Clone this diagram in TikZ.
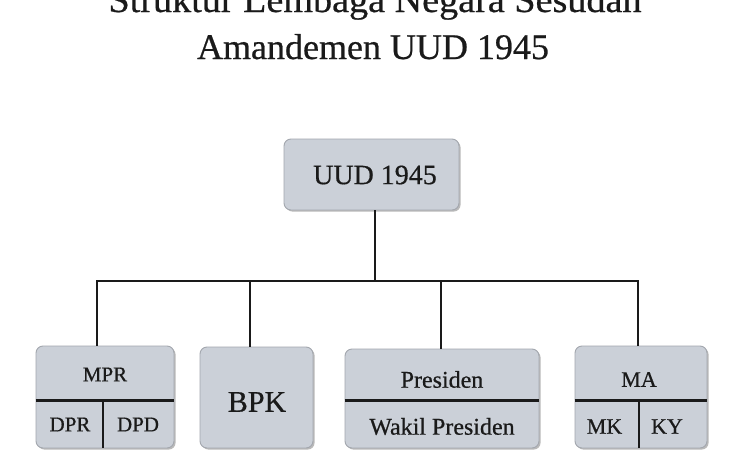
\documentclass[tikz,border=0pt]{standalone}
\usepackage{fontspec}
\setmainfont{Liberation Serif}[UprightFeatures={FakeBold=0.6}]
\usetikzlibrary{shadows}
\definecolor{boxfill}{HTML}{CBD0D8}
\definecolor{boxedge}{HTML}{A3A7AE}
\definecolor{ink}{HTML}{1A1A1A}
\tikzset{
  orgbox/.style={draw=boxedge, line width=0.9pt, fill=boxfill, rounded corners=7pt,
    inner sep=0pt, anchor=center,
    drop shadow={shadow xshift=1.6pt, shadow yshift=-1.6pt, fill=black!45, opacity=0.6}},
  link/.style={draw=ink, line width=2.6pt},
  divider/.style={draw=ink, line width=2.4pt},
  lbl/.style={text=ink, inner sep=0pt, anchor=center},
  ttl/.style={text=ink, inner sep=0pt, anchor=base, font=\fontsize{36}{40}\selectfont}
}
\begin{document}
\begin{tikzpicture}[x=1pt, y=-1pt]
\useasboundingbox[fill=white] (0,0) rectangle (750,450);
% title
\node[ttl] (t1) at (375,12) {\addfontfeature{FakeStretch=1.06}Struktur Lembaga Negara Sesudah};
\node[ttl] (t2) at (373,59) {Amandemen UUD 1945};
% boxes
\node[orgbox, minimum width=175pt, minimum height=71pt] (uud) at (371.5,174.5) {};
\node[orgbox, minimum width=138pt, minimum height=102pt] (mpr) at (105,397) {};
\node[orgbox, minimum width=113pt, minimum height=101pt] (bpk) at (256.5,397.5) {};
\node[orgbox, minimum width=194pt, minimum height=99pt] (pres) at (442,398.5) {};
\node[orgbox, minimum width=132pt, minimum height=102pt] (ma) at (641,397) {};
% connectors
\coordinate (sp) at (375,281);
\coordinate (j1) at (97,281);
\coordinate (j2) at (250,281);
\coordinate (j3) at (441,281);
\coordinate (j4) at (638,281);
\draw[link] (sp |- uud.south) -- (sp);
\draw[link, line cap=rect] (j1) -- (j4);
\draw[link] (j1) -- (j1 |- mpr.north);
\draw[link] (j2) -- (j2 |- bpk.north);
\draw[link] (j3) -- (j3 |- pres.north);
\draw[link] (j4) -- (j4 |- ma.north);
% dividers
\coordinate (dy) at (0,400.5);
\coordinate (mprx) at (103,0);
\coordinate (max) at (639,0);
\draw[divider] (mpr.west |- dy) -- (mpr.east |- dy);
\draw[divider] (mprx |- dy) -- (mprx |- mpr.south);
\draw[divider] (pres.west |- dy) -- (pres.east |- dy);
\draw[divider] (ma.west |- dy) -- (ma.east |- dy);
\draw[divider] (max |- dy) -- (max |- ma.south);
% labels
\node[lbl, font=\fontsize{28}{32}\selectfont] (luud) at (375,175) {UUD 1945};
\node[lbl, font=\fontsize{21}{25}\selectfont] (lmpr) at (105,374.5) {MPR};
\node[lbl, font=\fontsize{21}{25}\selectfont] (ldpr) at (70,424.5) {DPR};
\node[lbl, font=\fontsize{21}{25}\selectfont] (ldpd) at (138,424.5) {DPD};
\node[lbl, font=\fontsize{30}{34}\selectfont] (lbpk) at (257,402) {BPK};
\node[lbl, font=\fontsize{24}{28}\selectfont] (lpres) at (442,379.5) {Presiden};
\node[lbl, font=\fontsize{24}{28}\selectfont] (lwakil) at (442,426.5) {Wakil Presiden};
\node[lbl, font=\fontsize{22}{26}\selectfont] (lma) at (639,379.5) {MA};
\node[lbl, font=\fontsize{22}{26}\selectfont] (lmk) at (604.5,426.5) {MK};
\node[lbl, font=\fontsize{22}{26}\selectfont] (lky) at (667,426.5) {KY};
\end{tikzpicture}
\end{document}
